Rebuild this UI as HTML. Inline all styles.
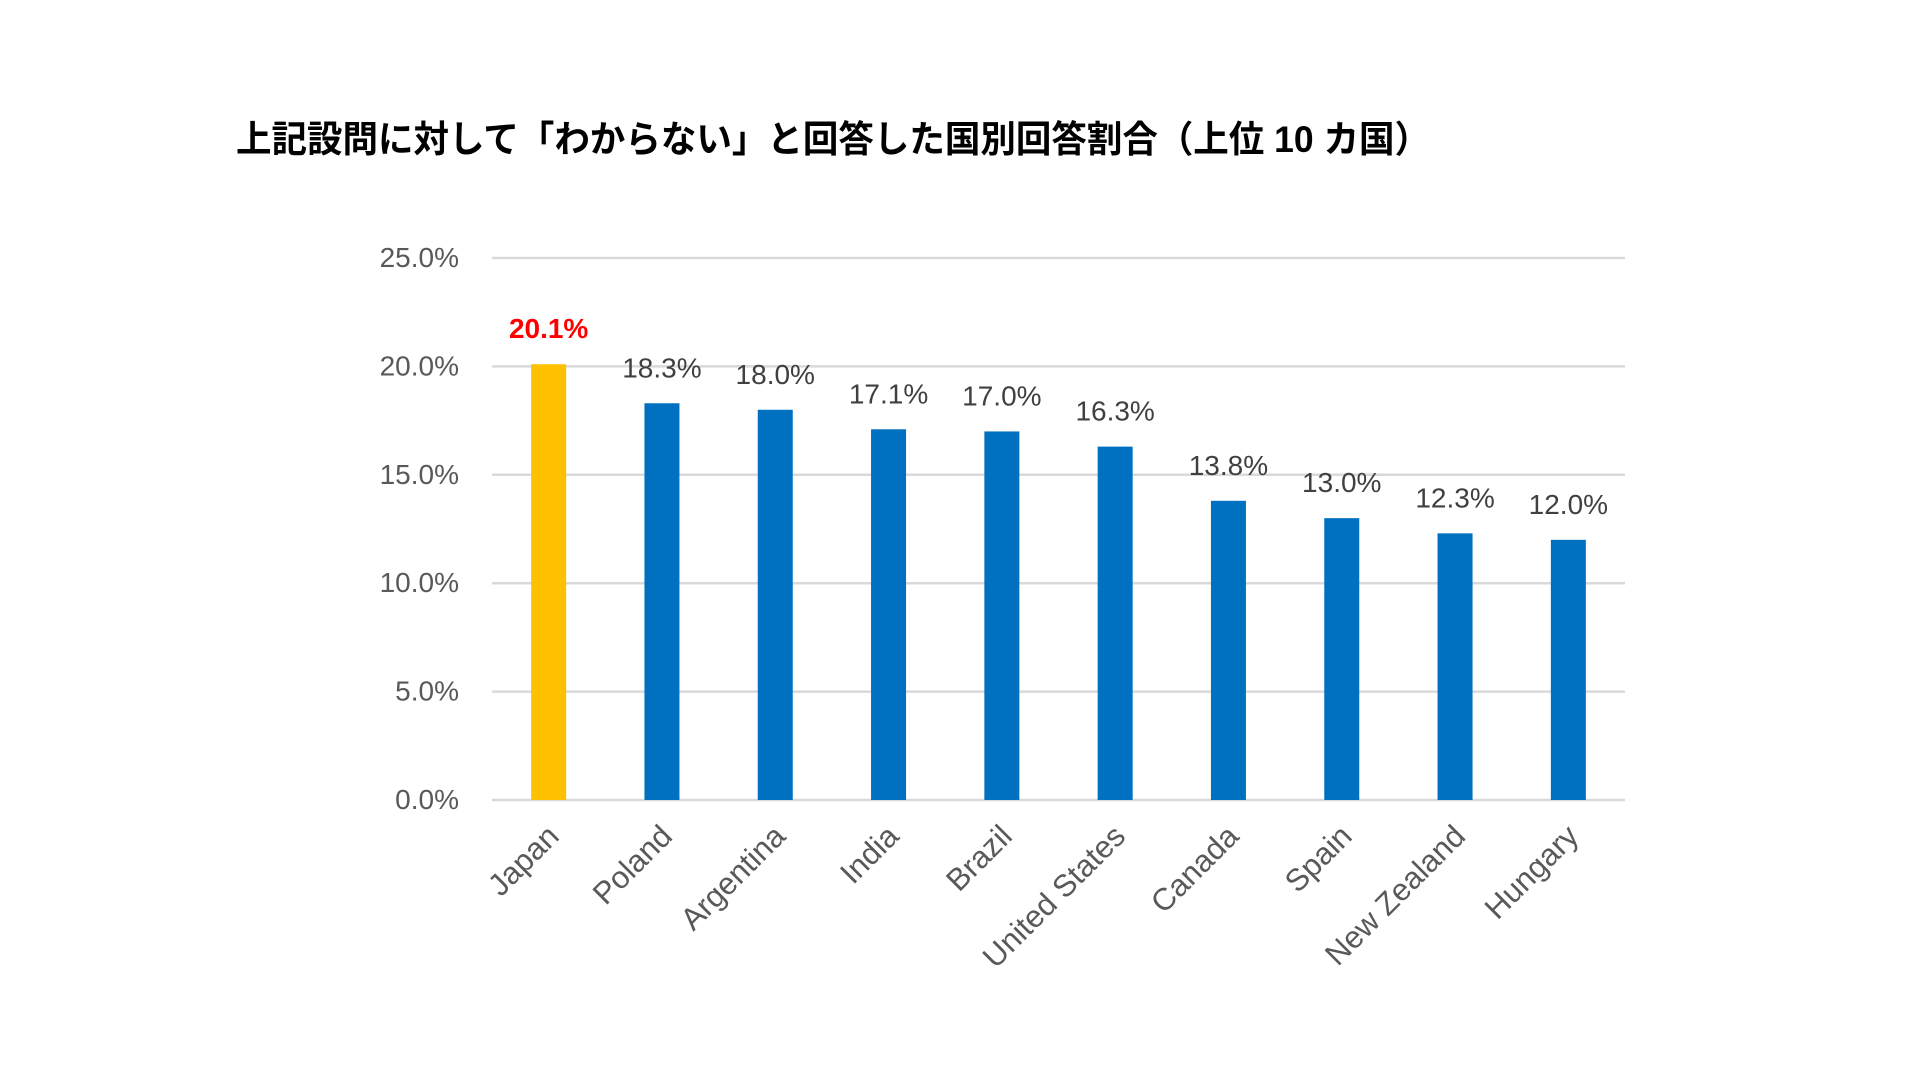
<!DOCTYPE html>
<html><head><meta charset="utf-8">
<style>
html,body{margin:0;padding:0;background:#fff;}
svg{display:block;}
</style></head>
<body>
<svg id="chart" width="1920" height="1080" viewBox="0 0 1920 1080" xmlns="http://www.w3.org/2000/svg">
<text x="236" y="152" font-family="'Liberation Sans','Noto Sans CJK JP',sans-serif" font-weight="bold" font-size="37" fill="#000" textLength="1194" lengthAdjust="spacingAndGlyphs">上記設問に対して「わからない」と回答した国別回答割合（上位 10 カ国）</text>
<g id="grid"></g><g id="bars"></g><g id="labels"></g>
</svg>
<script>
const categories = ["Japan","Poland","Argentina","India","Brazil","United States","Canada","Spain","New Zealand","Hungary"];
const values = [20.1,18.3,18.0,17.1,17.0,16.3,13.8,13.0,12.3,12.0];
const ticks = [0,5,10,15,20,25];
const tickLabels = ["0.0%","5.0%","10.0%","15.0%","20.0%","25.0%"];
const valueLabels = ["20.1%","18.3%","18.0%","17.1%","17.0%","16.3%","13.8%","13.0%","12.3%","12.0%"];

const NS="http://www.w3.org/2000/svg";
const left=492,right=1625,top0=258,bottom=800,ymax=25;
const band=(right-left)/categories.length;
function y(v){return bottom-(v/ymax)*(bottom-top0);}
function xc(i){return left+band*(i+0.5);}
function mk(tag,attrs,parent){const e=document.createElementNS(NS,tag);for(const k in attrs)e.setAttribute(k,attrs[k]);parent.appendChild(e);return e;}
const font="'Liberation Sans','DejaVu Sans',sans-serif";
const grid=document.getElementById('grid'),bars=document.getElementById('bars'),labels=document.getElementById('labels');
ticks.forEach((t,i)=>{
  const l=mk('line',{x1:left,x2:right,y1:y(t),y2:y(t),stroke:'#d9d9d9','stroke-width':2.5},grid);
  
  
  const tx=mk('text',{x:459,y:y(t)+9,'text-anchor':'end','font-family':font,'font-size':28,fill:'#595959'},grid);
  tx.textContent=tickLabels[i];
  
  
});
values.forEach((v,i)=>{
  const bw=35;
  const r=mk('rect',{x:xc(i)-bw/2,y:y(v),width:bw,height:bottom-y(v),fill:i===0?'#ffc000':'#0070c0'},bars);
  
  
  const vl=mk('text',{x:xc(i),y:y(v)-26,'text-anchor':'middle','font-family':font,'font-size':28,fill:i===0?'#ff0000':'#404040','font-weight':i===0?'bold':'normal'},labels);
  vl.textContent=valueLabels[i];
  
  
  const cx=xc(i)+12,cy=838;
  const cl=mk('text',{x:cx,y:cy,'text-anchor':'end','font-family':font,'font-size':31,fill:'#595959',transform:'rotate(-45 '+cx+' '+cy+')'},labels);
  cl.textContent=categories[i];
  
  
});
</script>
</body></html>
